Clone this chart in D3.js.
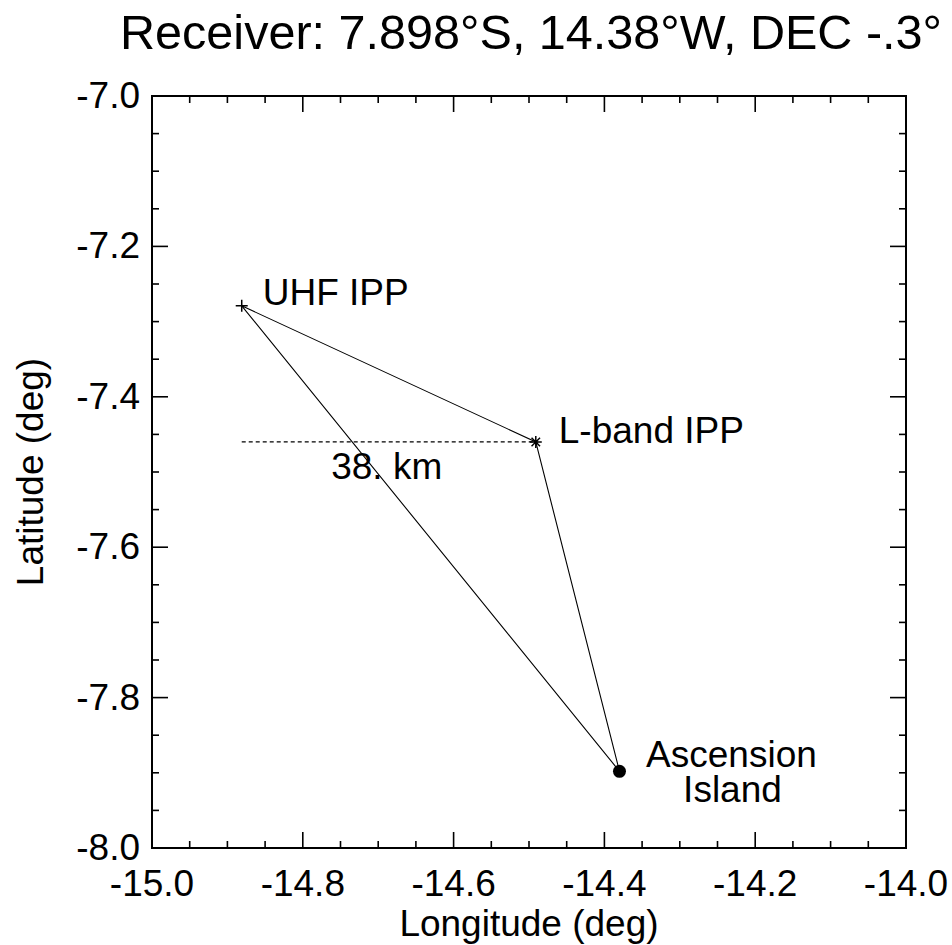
<!DOCTYPE html>
<html><head><meta charset="utf-8">
<script src="https://cdn.jsdelivr.net/npm/d3@7"></script>
<style>body{margin:0;background:#fff}text{font-family:"Liberation Sans",Arial,sans-serif;fill:#000}</style>
</head><body>
<script>
// ---- data ----
const titleText = "Receiver: 7.898\u00B0S, 14.38\u00B0W, DEC -.3\u00B0";
const xDomain = [-15.0, -14.0];
const yDomain = [-8.0, -7.0];
const xTickLabels = ["-15.0", "-14.8", "-14.6", "-14.4", "-14.2", "-14.0"];
const yTickLabels = ["-8.0", "-7.8", "-7.6", "-7.4", "-7.2", "-7.0"];
const pointNames = ["UHF IPP", "L-band IPP", "Ascension Island"];
const pointLon = [-14.881, -14.491, -14.38];
const pointLat = [-7.279, -7.460, -7.898];
const distanceLabel = "38. km";

const W = 952, H = 945;
const svg = d3.select("body").append("svg").attr("width", W).attr("height", H);
const x = d3.scaleLinear().domain(xDomain).range([152, 906]);
const y = d3.scaleLinear().domain(yDomain).range([848, 96]);
const FS = 37;

// ticks
const majX = xTickLabels.map(Number), majY = yTickLabels.map(Number);
const minX = d3.range(0, 21).map(i => xDomain[0] + i * 0.05);
const minY = d3.range(0, 21).map(i => yDomain[0] + i * 0.05);
function isMajor(v) { return Math.abs(v * 5 - Math.round(v * 5)) < 1e-6; }

const g = svg.append("g");
// x ticks bottom and top
minX.forEach(v => {
  const len = isMajor(v) ? 16 : 7;
  g.append("line").attr("x1", x(v)).attr("x2", x(v)).attr("y1", 848).attr("y2", 848 - len).attr("stroke", "#000").attr("stroke-width", 1.6);
  g.append("line").attr("x1", x(v)).attr("x2", x(v)).attr("y1", 96).attr("y2", 96 + len).attr("stroke", "#000").attr("stroke-width", 1.6);
});
minY.forEach(v => {
  const len = isMajor(v) ? 16 : 7;
  g.append("line").attr("y1", y(v)).attr("y2", y(v)).attr("x1", 152).attr("x2", 152 + len).attr("stroke", "#000").attr("stroke-width", 1.6);
  g.append("line").attr("y1", y(v)).attr("y2", y(v)).attr("x1", 906).attr("x2", 906 - len).attr("stroke", "#000").attr("stroke-width", 1.6);
});
// frame
g.append("rect").attr("x", 152).attr("y", 96).attr("width", 754).attr("height", 752)
  .attr("fill", "none").attr("stroke", "#000").attr("stroke-width", 2);

// tick labels
xTickLabels.forEach(t => {
  svg.append("text").attr("x", x(+t)).attr("y", 896).attr("text-anchor", "middle").attr("font-size", FS).text(t);
});
yTickLabels.forEach(t => {
  svg.append("text").attr("x", 140).attr("y", y(+t) + 12).attr("text-anchor", "end").attr("font-size", FS).text(t);
});

// axis titles
svg.append("text").attr("x", 529).attr("y", 936).attr("text-anchor", "middle").attr("font-size", FS).text("Longitude (deg)");
svg.append("text").attr("transform", "translate(43,472) rotate(-90)").attr("text-anchor", "middle").attr("font-size", FS).text("Latitude (deg)");

// title (condensed)
svg.append("text").attr("x", 120).attr("y", 49).attr("font-size", 48)
  .attr("textLength", 822).attr("lengthAdjust", "spacingAndGlyphs").text(titleText);

// triangle lines
const pts = pointLon.map((lon, i) => [x(lon), y(pointLat[i])]);
const line = d3.line();
svg.append("path").attr("d", line([pts[0], pts[1], pts[2], pts[0]]))
  .attr("fill", "none").attr("stroke", "#000").attr("stroke-width", 1.1);

// dashed line at L-band latitude from UHF longitude
svg.append("line").attr("x1", x(pointLon[0])).attr("x2", x(pointLon[1]))
  .attr("y1", y(pointLat[1])).attr("y2", y(pointLat[1]))
  .attr("stroke", "#000").attr("stroke-width", 1.1).attr("stroke-dasharray", "4,3");
svg.append("text").attr("x", (x(pointLon[0]) + x(pointLon[1])) / 2 - 2).attr("y", y(pointLat[1]) + 37)
  .attr("text-anchor", "middle").attr("font-size", FS).text(distanceLabel);

// markers
// plus for UHF
const p0 = pts[0];
svg.append("path").attr("d", `M${p0[0]-6},${p0[1]}H${p0[0]+6}M${p0[0]},${p0[1]-6}V${p0[1]+6}`)
  .attr("stroke", "#000").attr("stroke-width", 1.5);
// asterisk for L-band
const p1 = pts[1];
let ast = "";
[0, 45, 90, 135].forEach(a => {
  const r = 6, dx = r * Math.cos(a * Math.PI / 180), dy = r * Math.sin(a * Math.PI / 180);
  ast += `M${p1[0]-dx},${p1[1]-dy}L${p1[0]+dx},${p1[1]+dy}`;
});
svg.append("path").attr("d", ast).attr("stroke", "#000").attr("stroke-width", 1.5);
// filled circle for Ascension
svg.append("circle").attr("cx", pts[2][0]).attr("cy", pts[2][1]).attr("r", 6.5).attr("fill", "#000");

// point labels
svg.append("text").attr("x", pts[0][0] + 21).attr("y", pts[0][1] - 1).attr("font-size", FS).text(pointNames[0]);
svg.append("text").attr("x", pts[1][0] + 23).attr("y", pts[1][1] + 1).attr("font-size", FS).text(pointNames[1]);
const asc = pointNames[2].split(" ");
svg.append("text").attr("x", pts[2][0] + 112).attr("y", pts[2][1] - 4).attr("text-anchor", "middle").attr("font-size", FS).text(asc[0]);
svg.append("text").attr("x", pts[2][0] + 113).attr("y", pts[2][1] + 31).attr("text-anchor", "middle").attr("font-size", FS).text(asc[1]);
</script>
</body></html>
